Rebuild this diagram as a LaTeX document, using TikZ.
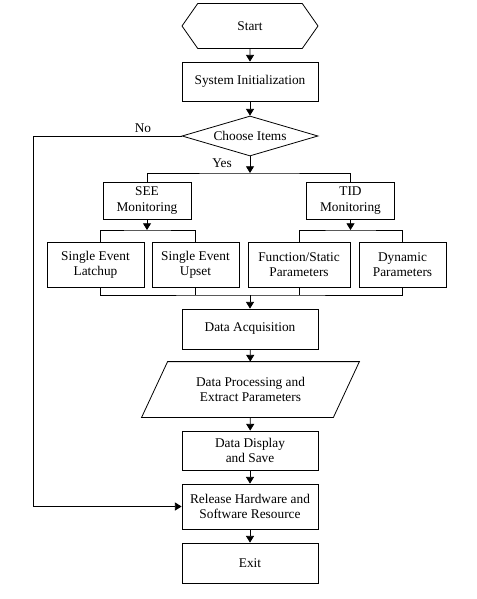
\documentclass[tikz,border=0pt]{standalone}
\usepackage{fontspec}
\setmainfont{Liberation Serif}
\usetikzlibrary{shapes.geometric,shapes.symbols,arrows.meta}
\newcommand{\flowarr}[2]{\draw[-{Triangle[width=6pt,length=5pt]}] (#1) -- (#2);}

\begin{document}
\begin{tikzpicture}[x=0.75pt,y=-0.75pt,line width=0.6pt,
  box/.style={draw,align=center,inner sep=1pt,font=\fontsize{10}{11.5}\selectfont},
  lbl/.style={inner sep=0pt,font=\fontsize{10}{11.5}\selectfont}]
\useasboundingbox (0,0) rectangle (477,599);
% ---- TOP ----
\node[box,signal,signal to=east and west,signal pointer angle=110,minimum width=102pt,minimum height=33.75pt] (start) at (250,26) {Start};
\node[box,minimum width=102pt,minimum height=29.25pt] (init) at (250,81.5) {System Initialization};
\node[box,diamond,inner sep=0pt,aspect=3.4,minimum width=102pt,minimum height=30pt] (choose) at (250,136) {Choose Items};
\coordinate (split) at (250,173);
\flowarr{start}{init}
\flowarr{init}{choose}
\flowarr{choose}{split}
\node[lbl] (yes) at (222,163) {Yes};
\node[lbl] (no) at (143,128) {No};
% ---- MONITORING ----
\node[box,minimum width=66pt,minimum height=27.75pt] (see) at (147,200.5) {SEE\\Monitoring};
\node[box,minimum width=66pt,minimum height=27.75pt] (tid) at (350.5,200.5) {TID\\Monitoring};
\draw (see.north) |- (split) -| (tid.north);
\coordinate (seesplit) at (147,230);
\coordinate (tidsplit) at (350.5,230);
\flowarr{see}{seesplit}
\flowarr{tid}{tidsplit}
\node[box,minimum width=72.75pt,minimum height=33.75pt] (sel) at (95.5,264.5) {Single Event\\Latchup};
\node[box,minimum width=65.25pt,minimum height=33.75pt] (seu) at (195.5,264.5) {Single Event\\Upset};
\node[box,minimum width=76.5pt,minimum height=33.75pt] (fsp) at (299,264.5) {Function/Static\\Parameters};
\node[box,minimum width=65.25pt,minimum height=33.75pt] (dyn) at (402.5,264.5) {Dynamic\\Parameters};
\draw ([xshift=4pt]sel.north) |- (seesplit) -| (seu.north);
\draw (fsp.north) |- (tidsplit) -| (dyn.north);
\coordinate (merge) at (250,295);
\draw ([xshift=4pt]sel.south) |- (merge) -| (dyn.south);
\draw (seu.south) -- (seu.south |- merge);
\draw (fsp.south) -- (fsp.south |- merge);
% ---- DATA ----
\node[box,minimum width=102pt,minimum height=30pt] (acq) at (250,329) {Data Acquisition};
\node[box,draw=none,minimum width=143.25pt,minimum height=41.25pt] (proc) at (250.5,389.5) {Data Processing and\\Extract Parameters};
\draw ([xshift=9.75pt]proc.north west) -- ([xshift=9.75pt]proc.north east)
  -- ([xshift=-9.75pt]proc.south east) -- ([xshift=-9.75pt]proc.south west) -- cycle;
\node[box,minimum width=102pt,minimum height=29.25pt] (disp) at (250,450.5) {Data Display\\and Save};
\node[box,minimum width=102pt,minimum height=33.75pt] (rel) at (250,506.5) {Release Hardware and\\Software Resource};
\node[box,minimum width=102pt,minimum height=30pt] (exit) at (250,563) {Exit};
\flowarr{merge}{acq}
\flowarr{acq}{proc}
\flowarr{proc}{disp}
\flowarr{disp}{rel}
\flowarr{rel}{exit}
\coordinate (back) at (33,136);
\draw[-{Triangle[width=6pt,length=5pt]}] (choose.west) -- (back) |- (rel.west);
\end{tikzpicture}
\end{document}
